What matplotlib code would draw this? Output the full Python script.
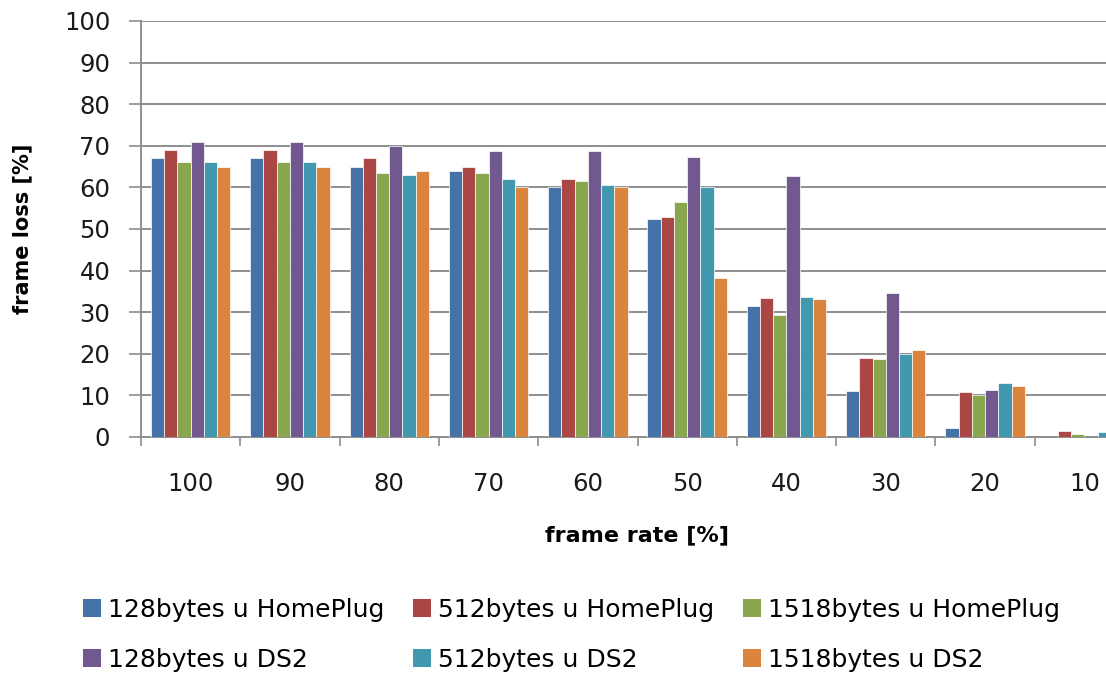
import matplotlib.pyplot as plt
import matplotlib.patches as mpatches
import numpy as np

rates = ['100', '90', '80', '70', '60', '50', '40', '30', '20', '10']

hp_128 = [67, 67, 65, 64, 60, 52.3, 31.5, 11.1, 2.1, 0]
hp_512 = [69, 69, 67, 65, 62, 53, 33.4, 19.1, 10.7, 1.4]
hp_1518 = [66, 66, 63.5, 63.5, 61.6, 56.4, 29.3, 18.8, 10.0, 0.8]
ds2_128 = [71, 71, 70, 68.7, 68.7, 67.4, 62.8, 34.5, 11.4, 0]
ds2_512 = [66, 66, 63, 62, 60.6, 60, 33.7, 20.0, 13.0, 1.1]
ds2_1518 = [65, 65, 64, 60, 60, 38.2, 33.1, 21.0, 12.3, 0.5]

series = [hp_128, hp_512, hp_1518, ds2_128, ds2_512, ds2_1518]
names = ['128bytes u HomePlug', '512bytes u HomePlug', '1518bytes u HomePlug',
         '128bytes u DS2', '512bytes u DS2', '1518bytes u DS2']
colors = ['#4572A7', '#AA4643', '#89A54E', '#71588F', '#4198AF', '#DB843D']

grid_col = '#8e8e8e'

fig = plt.figure(figsize=(11.06, 6.74), dpi=100)
# plot area runs past the right edge, the last group is cut off
ax = fig.add_axes([141 / 1106, 1 - 437 / 674, 993 / 1106, 416 / 674])

x = np.arange(len(rates))
w = 1 / 7.5
for j, (vals, col) in enumerate(zip(series, colors)):
    ax.bar(x + (j - 2.5) * w, vals, width=w, color=col,
           edgecolor='white', linewidth=0.5, zorder=3)

ax.set_xlim(-0.5, len(rates) - 0.5)
ax.set_ylim(0, 100)
ax.set_yticks(np.arange(0, 101, 10))
ax.yaxis.grid(True, color=grid_col, linewidth=1.4)
ax.set_axisbelow(True)

ax.set_xticks(x)
ax.set_xticklabels(rates)
ax.set_xticks(np.arange(-0.5, len(rates), 1), minor=True)
ax.tick_params(axis='x', which='major', length=0, pad=25, labelsize=17.5,
               labelcolor='#1a1a1a')
ax.tick_params(axis='x', which='minor', length=6.5, width=1.2, color=grid_col)
ax.tick_params(axis='y', length=8.6, width=1.2, pad=13.5, color=grid_col,
               labelsize=17.5, labelcolor='#1a1a1a')

for side in ['top', 'right']:
    ax.spines[side].set_visible(False)
for side in ['left', 'bottom']:
    ax.spines[side].set_color(grid_col)
    ax.spines[side].set_linewidth(1.4)

fig.text(22 / 1106, 1 - 229 / 674, 'frame loss [%]', rotation=90,
         ha='center', va='center', fontsize=15, fontweight='bold')
fig.text(637 / 1106, 1 - 535 / 674, 'frame rate [%]',
         ha='center', va='center', fontsize=16, fontweight='bold')

handles = [mpatches.Patch(facecolor=c, edgecolor='none') for c in colors]
order = [0, 3, 1, 4, 2, 5]
fig.legend([handles[i] for i in order], [names[i] for i in order],
           ncol=3, loc='upper left', bbox_to_anchor=(83 / 1106, 1 - 598 / 674),
           frameon=False, fontsize=18, handlelength=0.72, handleheight=0.72,
           handletextpad=0.3, columnspacing=1.12, labelspacing=1.02,
           borderaxespad=0, borderpad=0)

fig.savefig('out.png', dpi=100)
